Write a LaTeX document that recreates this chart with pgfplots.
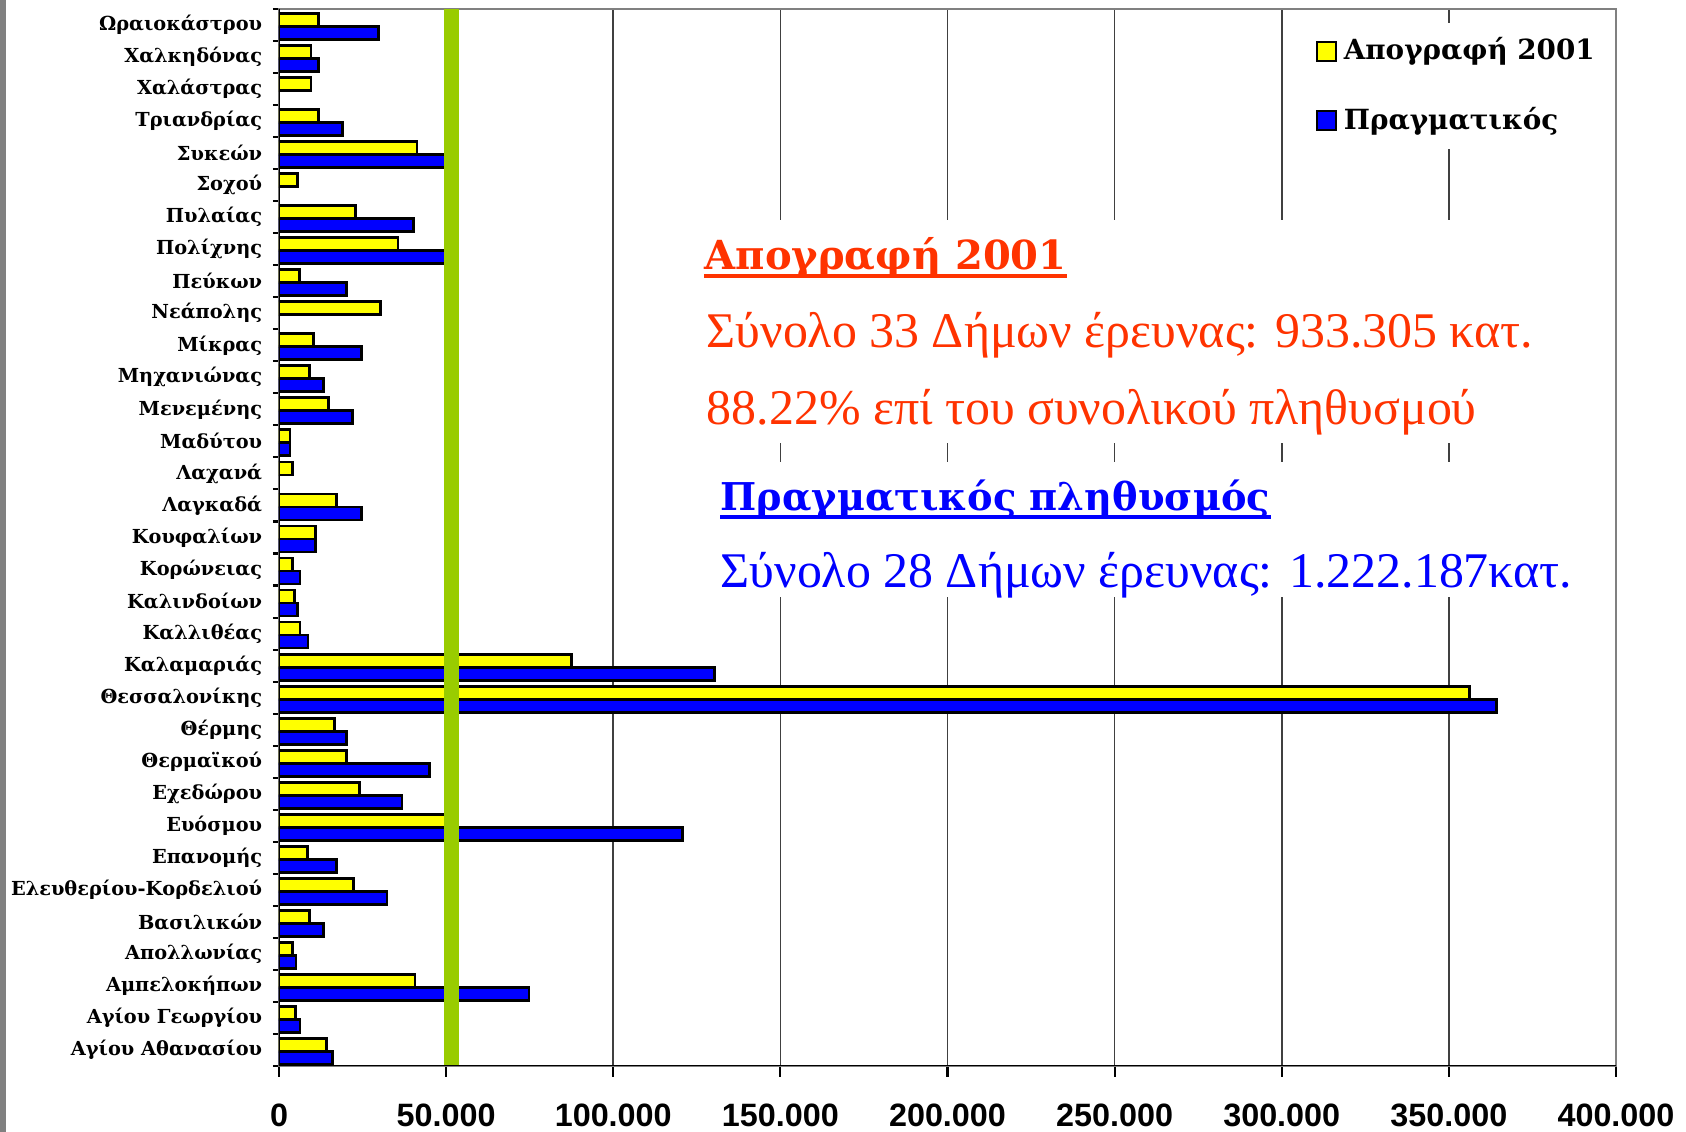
\documentclass[border=0pt]{standalone}
\usepackage{pgfplots}
\pgfplotsset{compat=1.18}
\usepackage{fontspec}
\setmainfont{DejaVu Serif}
\newfontfamily\tickfont{Liberation Sans}
\newfontfamily\annfont{Liberation Serif}
\definecolor{barY}{RGB}{255,255,0}
\definecolor{barB}{RGB}{0,0,255}
\definecolor{limeg}{RGB}{153,204,0}
\definecolor{redor}{RGB}{255,51,0}
\begin{document}
\begin{tikzpicture}[x=1cm,y=1cm]
\useasboundingbox (0,0) rectangle (16.86,11.32);
\fill[gray] (0,0) rectangle (0.06,11.32);
\begin{axis}[
  at={(2.79cm,0.66cm)}, anchor=south west,
  scale only axis, width=13.37cm, height=10.57cm,
  xmin=0, xmax=400000, ymin=-0.5, ymax=32.5,
  xtick={0,50000,...,400000},
  scaled x ticks=false,
  /pgf/number format/fixed,
  /pgf/number format/1000 sep={.},
  /pgf/number format/assume math mode=true,
  xticklabel style={font=\tickfont\bfseries\fontsize{9.2}{10}\selectfont, yshift=-0.15cm},
  ytick={0,...,32},
  yticklabels={Αγίου Αθανασίου, Αγίου Γεωργίου, Αμπελοκήπων, Απολλωνίας, Βασιλικών, Ελευθερίου-Κορδελιού, Επανομής, Ευόσμου, Εχεδώρου, Θερμαϊκού, Θέρμης, Θεσσαλονίκης, Καλαμαριάς, Καλλιθέας, Καλινδοίων, Κορώνειας, Κουφαλίων, Λαγκαδά, Λαχανά, Μαδύτου, Μενεμένης, Μηχανιώνας, Μίκρας, Νεάπολης, Πεύκων, Πολίχνης, Πυλαίας, Σοχού, Συκεών, Τριανδρίας, Χαλάστρας, Χαλκηδόνας, Ωραιοκάστρου},
  yticklabel style={font=\bfseries\fontsize{5.5}{6}\selectfont, xshift=0.065cm},
  minor ytick={-0.5,0.5,...,32.5},
  every major y tick/.style={draw=none},
  every minor y tick/.style={black, line width=0.6pt},
  every major x tick/.style={black, line width=0.6pt},
  major tick length=0.11cm, minor tick length=0.06cm,
  tick align=outside, tick pos=left,
  xmajorgrids, major grid style={black!75, line width=0.45pt},
  axis line style={draw=gray, line width=0.8pt},
  legend style={at={(rel axis cs:0.767,0.987)}, anchor=north west, draw=none, fill=white,
    font=\bfseries\fontsize{7.9}{9}\selectfont, row sep=0.28cm},
  legend cell align=left,
]
\addplot[xbar, bar width=0.13cm, bar shift=0.05cm, fill=barY, draw=black, line width=0.8pt,
  legend image code/.code={\draw[fill=barY, draw=black, line width=0.6pt] (0cm,-0.095cm) rectangle (0.19cm,0.095cm);}]
coordinates {
(14300,0) (5000,1) (40700,2) (4000,3) (9200,4) (22400,5) (8500,6) (51000,7) (24000,8) (20100,9)
(16700,10) (356200,11) (87400,12) (6300,13) (4600,14) (4000,15) (10900,16) (17200,17) (4000,18) (3300,19)
(14800,20) (9200,21) (10300,22) (30400,23) (6200,24) (35600,25) (22900,26) (5600,27) (41300,28) (11900,29)
(9600,30) (9600,31) (11900,32)
};
\addlegendentry{Απογραφή 2001}
\addplot[xbar, bar width=0.13cm, bar shift=-0.08cm, fill=barB, draw=black, line width=0.8pt,
  legend image code/.code={\draw[fill=barB, draw=black, line width=0.6pt] (0cm,-0.095cm) rectangle (0.19cm,0.095cm);}]
coordinates {
(16100,0) (6300,1) (74800,2) (5100,3) (13300,4) (32300,5) (17200,6) (120700,7) (36800,8) (45000,9)
(20100,10) (364300,11) (130300,12) (8700,13) (5600,14) (6300,15) (10900,16) (24700,17) (3300,19)
(21900,20) (13300,21) (24700,22) (20100,24) (51000,25) (40300,26) (51000,28) (18900,29)
(11900,31) (29800,32)
};
\addlegendentry{Πραγματικός}
\addplot[fill=limeg, draw=none, forget plot] coordinates {(49400,-0.5) (53900,-0.5) (53900,32.5) (49400,32.5)} -- cycle;
\draw[black, line width=0.8pt] (rel axis cs:0,1) -- (rel axis cs:0,0) -- (rel axis cs:1,0);
\end{axis}
% white boxes behind annotations
\fill[white] (6.99,6.89) rectangle (15.48,9.12);
\fill[white] (7.10,5.35) rectangle (15.81,6.70);
\node[anchor=base west, inner sep=0, text=redor, font=\bfseries\fontsize{11.4}{12}\selectfont] (h1) at (7.04,8.62) {Απογραφή 2001};
\draw[redor, line width=1pt] ([yshift=-0.06cm]h1.base west) -- ([yshift=-0.06cm]h1.base east);
\node[anchor=base west, inner sep=0, text=redor, font=\annfont\fontsize{14.2}{15}\selectfont] at (7.06,7.84) {Σύνολο 33 Δήμων έρευνας: 933.305 κατ.};
\node[anchor=base west, inner sep=0, text=redor, font=\annfont\fontsize{14.2}{15}\selectfont] at (7.06,7.07) {88.22\% επί του συνολικού πληθυσμού};
\node[anchor=base west, inner sep=0, text=barB, font=\bfseries\fontsize{10.9}{12}\selectfont] (h2) at (7.20,6.21) {Πραγματικός πληθυσμός};
\draw[barB, line width=1pt] ([yshift=-0.06cm]h2.base west) -- ([yshift=-0.06cm]h2.base east);
\node[anchor=base west, inner sep=0, text=barB, font=\annfont\fontsize{14.2}{15}\selectfont] at (7.20,5.44) {Σύνολο 28 Δήμων έρευνας: 1.222.187κατ.};
\end{tikzpicture}
\end{document}
